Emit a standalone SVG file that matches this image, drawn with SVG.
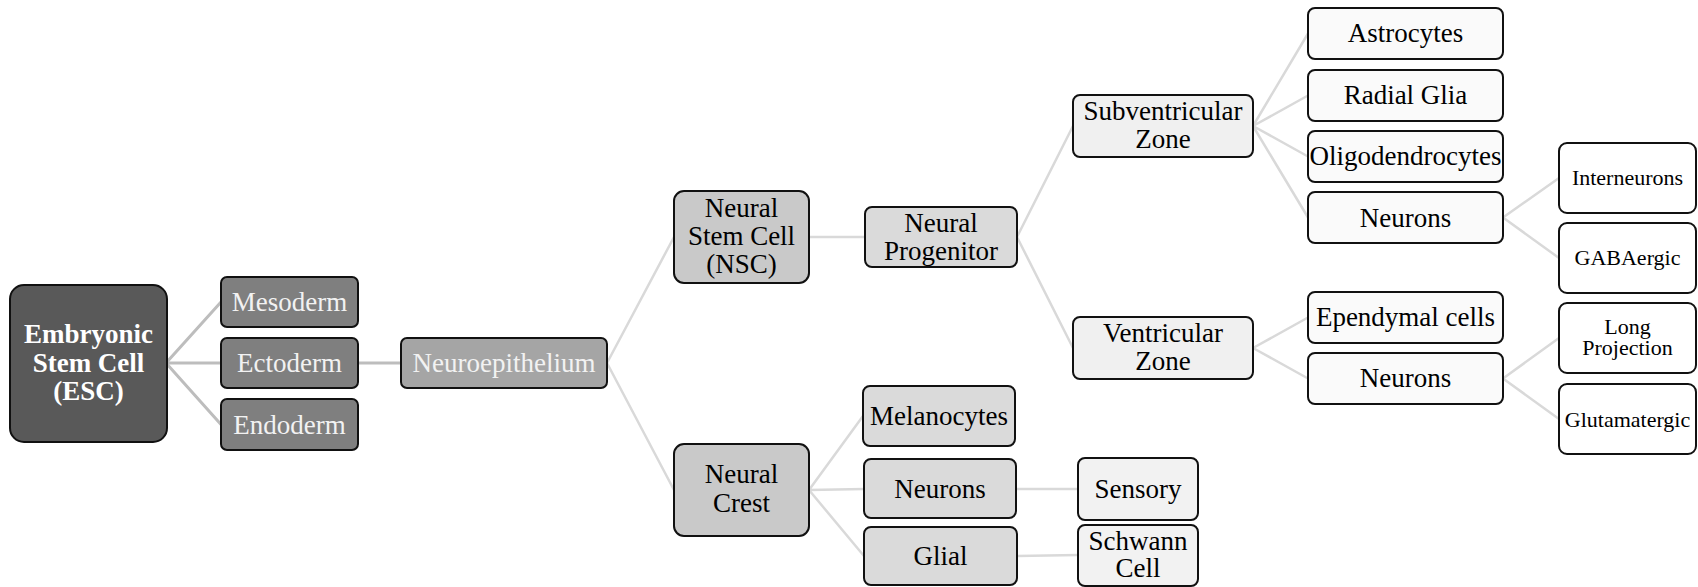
<svg xmlns="http://www.w3.org/2000/svg" width="1698" height="587" viewBox="0 0 1698 587">
  <style>
    .box { stroke: #111; stroke-width: 2; }
    .t { font-family: "Liberation Serif", "Times New Roman", serif; font-size: 27px; text-anchor: middle; fill: #000; }
    .light { fill: #f2f2f2; }
    .sm { font-size: 22px; }
    .bold { font-weight: bold; font-size: 27px; fill: #fff; }
    .c1 { stroke: #bdbdbd; stroke-width: 3; fill: none; }
    .c2 { stroke: #d9d9d9; stroke-width: 2.5; fill: none; }
  </style>

  <g id="connectors">
    <path class="c1" d="M166 363 L221 302 M166 363 L221 363 M166 363 L221 424.5 M358 363 L401 363"/>
    <path class="c2" d="M607 363 L674 237 M607 363 L674 490 M809 237 L865 237"/>
    <path class="c2" d="M1017 237 L1073 126 M1017 237 L1073 348"/>
    <path class="c2" d="M809 490 L863 416 M809 490 L864 489 M809 490 L864 556 M1016 489 L1078 489 M1017 556 L1078 555"/>
    <path class="c2" d="M1253 126 L1308 33.5 M1253 126 L1308 95.5 M1253 126 L1308 156.5 M1253 126 L1308 217.5"/>
    <path class="c2" d="M1503 217.5 L1559 178 M1503 217.5 L1559 258"/>
    <path class="c2" d="M1253 348 L1308 317.5 M1253 348 L1308 378.5"/>
    <path class="c2" d="M1503 378.5 L1559 338 M1503 378.5 L1559 419"/>
  </g>

  <g id="esc">
    <rect class="box" x="10" y="285" width="157" height="157" rx="14" fill="#595959"/>
    <text class="t bold" x="88.5" y="343">Embryonic</text>
    <text class="t bold" x="88.5" y="372">Stem Cell</text>
    <text class="t bold" x="88.5" y="400">(ESC)</text>
  </g>
  <g id="mesoderm">
    <rect class="box" x="221" y="277" width="137" height="50" rx="6" fill="#7f7f7f"/>
    <text class="t light" x="289.5" y="311">Mesoderm</text>
  </g>
  <g id="ectoderm">
    <rect class="box" x="221" y="338" width="137" height="50" rx="6" fill="#7f7f7f"/>
    <text class="t light" x="289.5" y="372">Ectoderm</text>
  </g>
  <g id="endoderm">
    <rect class="box" x="221" y="399" width="137" height="51" rx="6" fill="#7f7f7f"/>
    <text class="t light" x="289.5" y="434">Endoderm</text>
  </g>
  <g id="neuroepithelium">
    <rect class="box" x="401" y="338" width="206" height="50" rx="6" fill="#a5a5a5"/>
    <text class="t light" x="504" y="372">Neuroepithelium</text>
  </g>

  <g id="nsc">
    <rect class="box" x="674" y="191" width="135" height="92" rx="10" fill="#c9c9c9"/>
    <text class="t" x="741.5" y="217">Neural</text>
    <text class="t" x="741.5" y="245">Stem Cell</text>
    <text class="t" x="741.5" y="273">(NSC)</text>
  </g>
  <g id="neural-crest">
    <rect class="box" x="674" y="444" width="135" height="92" rx="10" fill="#c9c9c9"/>
    <text class="t" x="741.5" y="483">Neural</text>
    <text class="t" x="741.5" y="512">Crest</text>
  </g>
  <g id="neural-progenitor">
    <rect class="box" x="865" y="207" width="152" height="60" rx="7" fill="#dadada"/>
    <text class="t" x="941" y="232">Neural</text>
    <text class="t" x="941" y="260">Progenitor</text>
  </g>

  <g id="melanocytes">
    <rect class="box" x="863" y="386" width="152" height="60" rx="7" fill="#dadada"/>
    <text class="t" x="939" y="425">Melanocytes</text>
  </g>
  <g id="crest-neurons">
    <rect class="box" x="864" y="459" width="152" height="59" rx="7" fill="#dadada"/>
    <text class="t" x="940" y="497.5">Neurons</text>
  </g>
  <g id="glial">
    <rect class="box" x="864" y="527" width="153" height="58" rx="7" fill="#dadada"/>
    <text class="t" x="940.5" y="565">Glial</text>
  </g>
  <g id="sensory">
    <rect class="box" x="1078" y="458" width="120" height="62" rx="7" fill="#f2f2f2"/>
    <text class="t" x="1138" y="498">Sensory</text>
  </g>
  <g id="schwann">
    <rect class="box" x="1078" y="525" width="120" height="61" rx="7" fill="#f2f2f2"/>
    <text class="t" x="1138" y="550">Schwann</text>
    <text class="t" x="1138" y="577">Cell</text>
  </g>

  <g id="svz">
    <rect class="box" x="1073" y="95" width="180" height="62" rx="7" fill="#f0f0f0"/>
    <text class="t" x="1163" y="120">Subventricular</text>
    <text class="t" x="1163" y="148">Zone</text>
  </g>
  <g id="vz">
    <rect class="box" x="1073" y="317" width="180" height="62" rx="7" fill="#f0f0f0"/>
    <text class="t" x="1163" y="342">Ventricular</text>
    <text class="t" x="1163" y="370">Zone</text>
  </g>

  <g id="astrocytes">
    <rect class="box" x="1308" y="8" width="195" height="51" rx="7" fill="#fafafa"/>
    <text class="t" x="1405.5" y="42">Astrocytes</text>
  </g>
  <g id="radial-glia">
    <rect class="box" x="1308" y="70" width="195" height="51" rx="7" fill="#fafafa"/>
    <text class="t" x="1405.5" y="104">Radial Glia</text>
  </g>
  <g id="oligodendrocytes">
    <rect class="box" x="1308" y="131" width="195" height="51" rx="7" fill="#fafafa"/>
    <text class="t" x="1405.5" y="165">Oligodendrocytes</text>
  </g>
  <g id="svz-neurons">
    <rect class="box" x="1308" y="192" width="195" height="51" rx="7" fill="#fafafa"/>
    <text class="t" x="1405.5" y="227">Neurons</text>
  </g>
  <g id="ependymal">
    <rect class="box" x="1308" y="292" width="195" height="51" rx="7" fill="#fafafa"/>
    <text class="t" x="1405.5" y="326">Ependymal cells</text>
  </g>
  <g id="vz-neurons">
    <rect class="box" x="1308" y="353" width="195" height="51" rx="7" fill="#fafafa"/>
    <text class="t" x="1405.5" y="387">Neurons</text>
  </g>

  <g id="interneurons">
    <rect class="box" x="1559" y="143" width="137" height="70" rx="8" fill="#fff"/>
    <text class="t sm" x="1627.5" y="185">Interneurons</text>
  </g>
  <g id="gabaergic">
    <rect class="box" x="1559" y="223" width="137" height="70" rx="8" fill="#fff"/>
    <text class="t sm" x="1627.5" y="265">GABAergic</text>
  </g>
  <g id="long-projection">
    <rect class="box" x="1559" y="303" width="137" height="70" rx="8" fill="#fff"/>
    <text class="t sm" x="1627.5" y="334">Long</text>
    <text class="t sm" x="1627.5" y="355">Projection</text>
  </g>
  <g id="glutamatergic">
    <rect class="box" x="1559" y="384" width="137" height="70" rx="8" fill="#fff"/>
    <text class="t sm" x="1627.5" y="427">Glutamatergic</text>
  </g>
</svg>
